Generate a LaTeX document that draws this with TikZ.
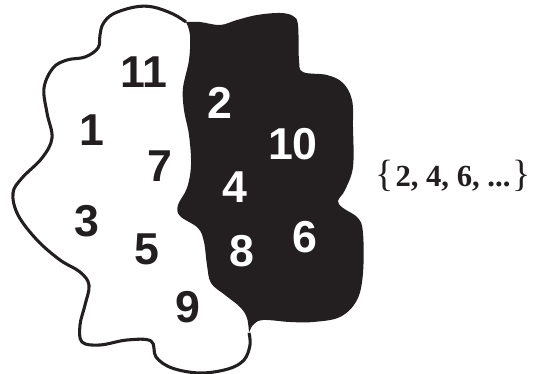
\documentclass[tikz,border=0pt]{standalone}
\usepackage{fontspec}
\setmainfont{Liberation Serif}
\newfontfamily\numfont{Liberation Sans}
\definecolor{ink}{RGB}{35,31,32}
\begin{document}
\begin{tikzpicture}[x=0.75pt,y=-0.75pt,
  numw/.style={inner sep=0pt,anchor=base,font=\numfont\bfseries\fontsize{33.5}{34}\selectfont,text=white},
  numb/.style={inner sep=0pt,anchor=base,font=\numfont\bfseries\fontsize{33.5}{34}\selectfont,text=ink},
  outline/.style={line width=2.3pt,draw=ink,line join=round}]
\useasboundingbox (0,0) rectangle (537,374);
% white region with outline
\draw[outline,fill=white] plot[smooth,tension=0.6] coordinates {(186,22) (173,14) (153,7) (135,7) (113,14) (103,24) (100,35) (98,48) (85,57) (67,60) (53,68) (44,88) (47,113) (52,138) (42,158) (22,178) (13,193) (18,215) (37,240) (60,260) (80,272) (89,285) (85,305) (80,325) (82,342) (100,345) (127,340) (151,341) (156,357) (172,368) (200,373) (228,369) (244,360) (250,345) (249,333)}
 -- (249,333);
% black region
\fill[ink] plot[smooth,tension=0.6] coordinates {(186,22) (190,35) (189,60) (183,88) (184,110) (189,135) (191,165) (187,188) (178,205) (180,216) (198,228) (204,242) (207,265) (211,283) (225,295) (240,307) (247,318) (249,333)}
 -- plot[smooth,tension=0.6] coordinates {(249,333) (253,325) (263,320) (290,322) (313,322) (340,317) (357,300) (363,273) (363,233) (358,218) (343,208) (338,201) (345,190) (353,167) (353,127) (352,100) (343,83) (327,75) (303,72) (299,60) (298,25) (293,16) (280,13) (257,15) (237,20) (220,25) (200,22) (186,22)} -- cycle;
% numbers in white region
\node[numb] (n11) at (144,88) {11};
\node[numb] (n1) at (92,146) {1};
\node[numb] (n7) at (160,182) {7};
\node[numb] (n3) at (87,237) {3};
\node[numb] (n5) at (147,265) {5};
\node[numb] (n9) at (188,323) {9};
% numbers in black region
\node[numw] (n2) at (220,119) {2};
\node[numw] (n10) at (293,160) {10};
\node[numw] (n4) at (235,203) {4};
\node[numw] (n8) at (242,267) {8};
\node[numw] (n6) at (305,253) {6};
% set
\node[inner sep=0pt,anchor=base,text=ink] (set) at (453,187) {{\fontsize{28.5}{29}\selectfont\{}\,{\fontsize{23}{24}\selectfont\bfseries 2, 4, 6, ...}\,{\fontsize{28.5}{29}\selectfont\}}};
\end{tikzpicture}
\end{document}
